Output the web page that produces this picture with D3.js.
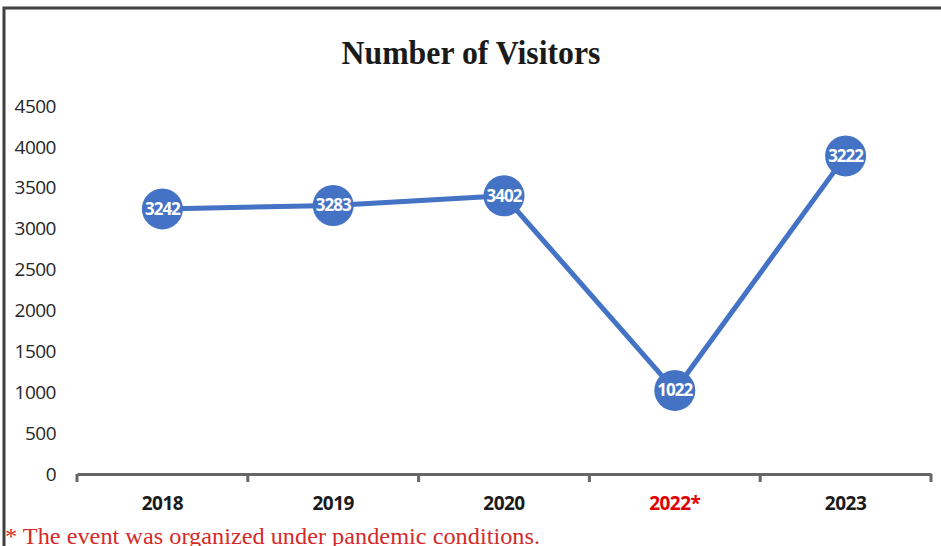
<!DOCTYPE html>
<html><head><meta charset="utf-8">
<script src="https://cdn.jsdelivr.net/npm/d3@7"></script>
<style>body{margin:0;background:#fff;}svg{display:block;}</style>
</head><body>
<script>
const categories = ["2018","2019","2020","2022*","2023"];
const values = [3242, 3283, 3402, 1022, 3890];
const labels = ["3242","3283","3402","1022","3222"];
const yTicks = [0,500,1000,1500,2000,2500,3000,3500,4000,4500];
const highlighted = ["2022*"];

const W = 941, H = 546;
const svg = d3.select("body").append("svg").attr("width", W).attr("height", H);

// frame
svg.append("path").attr("d", `M4,${H} V8 H${W}`).attr("fill","none").attr("stroke","#404040").attr("stroke-width",3);

svg.append("text").attr("x", 471).attr("y", 64).attr("text-anchor","middle")
  .attr("font-family","Liberation Serif, serif").attr("font-weight","bold").attr("font-size",33)
  .attr("textLength",259).attr("lengthAdjust","spacingAndGlyphs")
  .attr("fill","#1a1a1a").text("Number of Visitors");

const x = d3.scaleBand().domain(categories).range([77, 931]);
const y = d3.scaleLinear().domain([0, 4500]).range([474, 106]);

// y labels
svg.append("g").selectAll("text").data(yTicks).join("text")
  .attr("x", 56).attr("y", d => y(d)).attr("dy","0.35em").attr("text-anchor","end")
  .attr("font-family","Open Sans, sans-serif").attr("font-size",19).attr("fill","#262626")
  .attr("letter-spacing","-0.5")
  .text(d => d);

// x axis
const xa = svg.append("g").attr("transform","translate(0,474)")
  .call(d3.axisBottom(x).tickSize(0).tickSizeOuter(0).tickFormat(""));
xa.select(".domain").attr("stroke","#666").attr("stroke-width",3);
const bounds = categories.map(c => x(c)).concat([x.range()[1]]);
svg.append("g").selectAll("line").data(bounds).join("line")
  .attr("x1", d => d).attr("x2", d => d).attr("y1", 474).attr("y2", 482)
  .attr("stroke","#666").attr("stroke-width",3);
svg.append("g").selectAll("text").data(categories).join("text")
  .attr("x", d => x(d) + x.bandwidth()/2).attr("y", 503).attr("dy","0.35em").attr("text-anchor","middle")
  .attr("font-family","Open Sans, sans-serif").attr("font-weight","bold").attr("font-size",19)
  .attr("letter-spacing","-0.5")
  .attr("fill", d => highlighted.includes(d) ? "#e00000" : "#1a1a1a").text(d => d);

// line
const pts = categories.map((c,i) => ({c, v: values[i], l: labels[i]}));
const line = d3.line().x(d => x(d.c) + x.bandwidth()/2).y(d => y(d.v));
svg.append("path").datum(pts).attr("d", line).attr("fill","none")
  .attr("stroke","#4472C4").attr("stroke-width",5).attr("stroke-linejoin","round");
svg.append("g").selectAll("circle").data(pts).join("circle")
  .attr("cx", d => x(d.c) + x.bandwidth()/2).attr("cy", d => y(d.v)).attr("r", 20.5)
  .attr("fill","#4472C4");
svg.append("g").selectAll("text").data(pts).join("text")
  .attr("x", d => x(d.c) + x.bandwidth()/2).attr("y", d => y(d.v)).attr("dy","0.35em")
  .attr("text-anchor","middle").attr("font-family","Open Sans, sans-serif").attr("font-weight","bold")
  .attr("font-size",17).attr("letter-spacing","-1").attr("fill","#fff").text(d => d.l);

svg.append("text").attr("x", 5).attr("y", 544)
  .attr("font-family","Liberation Serif, serif").attr("font-size",23).attr("fill","#d42a2a")
  .attr("textLength",535).attr("lengthAdjust","spacingAndGlyphs")
  .text("* The event was organized under pandemic conditions.");
</script>
</body></html>
